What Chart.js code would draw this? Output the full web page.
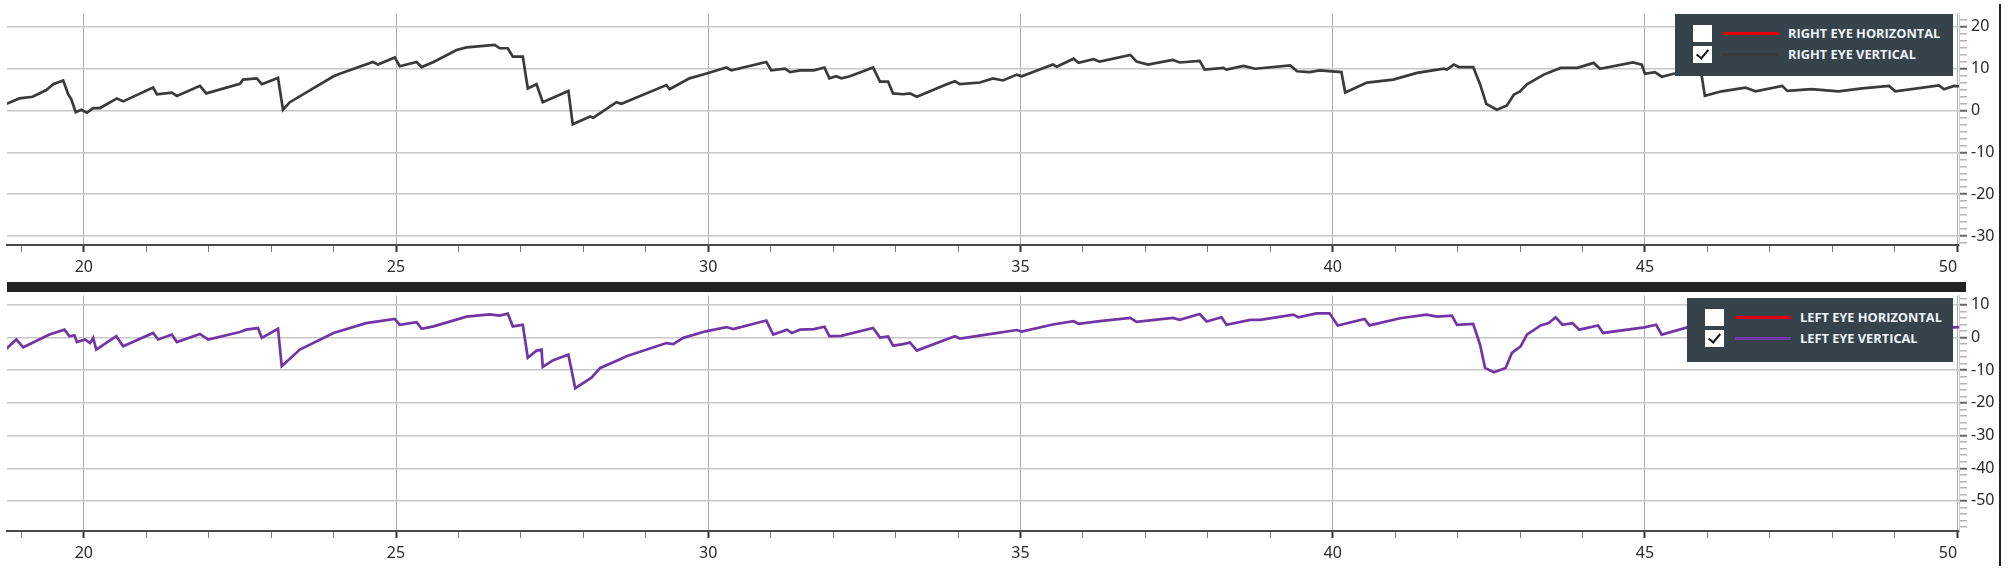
<!DOCTYPE html>
<html>
<head>
<meta charset="utf-8">
<script src="https://cdn.jsdelivr.net/npm/chart.js@4.4.1/dist/chart.umd.min.js"></script>
<style>
  html, body { margin: 0; padding: 0; background: #fff; }
  body { width: 2008px; height: 572px; position: relative; overflow: hidden; }
  canvas { position: absolute; left: 0; }
  #c1 { top: 0; }
  #c2 { top: 282px; }
  .sep { position: absolute; left: 7px; top: 282px; width: 1959px; height: 10px; background: #222; z-index: 5; }
  .vline { position: absolute; left: 1999px; top: 4px; width: 2px; height: 562px; background: #222; z-index: 5; }
  .legend { position: absolute; background: #36434b; z-index: 6; box-sizing: border-box; }
  .row { position: absolute; left: 0; height: 20px; width: 100%; }
  .cb { position: absolute; left: 18px; top: 2px; width: 19px; height: 17px; background: #fff; }
  .cb.on::after { content: ""; position: absolute; left: 6px; top: 1px; width: 5px; height: 10px;
    border-right: 2.5px solid #111; border-bottom: 2.5px solid #111; transform: rotate(40deg); }
  .ln { position: absolute; left: 48px; top: 9px; width: 56px; height: 3px; }
  .tx { position: absolute; left: 113px; top: 1px; font: bold 12.8px "Open Sans", sans-serif; color: #eef4fa; white-space: nowrap; line-height: 18px; }
</style>
</head>
<body>
<canvas id="c1" width="2008" height="282"></canvas>
<canvas id="c2" width="2008" height="290"></canvas>
<div class="sep"></div>
<div class="vline"></div>
<div id="lg1" class="legend" style="left:1675px; top:14px; width:278px; height:62px;"></div>
<div id="lg2" class="legend" style="left:1687px; top:298px; width:266px; height:64px;"></div>
<script>
// ---------- data ----------
const xMajorTicks = [20, 25, 30, 35, 40, 45, 50];
const topYTicks = [20, 10, 0, -10, -20, -30];
const botYTicks = [10, 0, -10, -20, -30, -40, -50];

const topSeriesNames = ['RIGHT EYE HORIZONTAL', 'RIGHT EYE VERTICAL'];
const topSeriesColors = ['#e00000', '#3a3a3a'];
const topSeriesVisible = [false, true];
const botSeriesNames = ['LEFT EYE HORIZONTAL', 'LEFT EYE VERTICAL'];
const botSeriesColors = ['#e00000', '#7334a6'];
const botSeriesVisible = [false, true];

// right eye vertical (time in s, deg)
const topX = [18.76,18.97,19.18,19.40,19.51,19.67,19.75,19.80,19.87,19.96,20.05,20.15,20.26,20.53,20.63,21.11,21.17,21.41,21.49,21.86,21.96,
  22.50,22.55,22.77,22.85,23.11,23.19,23.30,24.00,24.10,24.63,24.71,24.98,25.06,25.33,25.41,25.60,25.97,26.13,26.58,26.66,26.79,26.87,
  27.03,27.11,27.25,27.35,27.76,27.83,28.11,28.16,28.53,28.61,29.33,29.38,29.70,29.96,30.29,30.37,30.93,31.01,31.23,31.31,31.47,31.69,
  31.86,31.94,32.05,32.13,32.27,32.64,32.75,32.88,32.96,33.12,33.23,33.34,33.82,33.95,34.03,34.35,34.56,34.72,34.94,35.02,35.52,35.58,
  35.85,35.93,36.17,36.27,36.76,36.86,37.04,37.44,37.55,37.87,37.95,38.25,38.30,38.57,38.76,39.32,39.43,39.63,39.79,40.14,40.20,40.55,
  40.97,41.35,41.78,41.83,41.94,42.02,42.25,42.36,42.46,42.63,42.79,42.90,43.00,43.11,43.38,43.65,43.92,44.18,44.28,44.81,44.95,45.00,
  45.16,45.27,45.46,45.70,45.90,45.96,46.23,46.61,46.77,47.20,47.28,47.67,48.10,48.48,48.91,49.01,49.71,49.79,49.95,50.04];
const topY = [1.6,2.9,3.3,4.9,6.3,7.2,3.9,2.7,-0.4,0.2,-0.5,0.6,0.6,2.9,2.2,5.5,3.9,4.3,3.5,5.9,4.1,
  6.4,7.4,7.7,6.3,7.8,0.2,2.0,8.2,8.8,11.6,11.0,12.7,10.6,11.6,10.4,11.6,14.5,15.1,15.7,14.9,14.9,12.9,
  12.9,5.3,6.3,2.0,4.7,-3.3,-1.4,-1.7,2.0,1.6,6.1,5.1,7.7,8.8,10.3,9.6,11.6,9.6,10.0,9.2,9.6,9.6,
  10.3,7.7,8.2,7.7,8.2,10.3,6.9,6.9,4.1,3.9,4.1,3.3,6.3,7.0,6.3,6.7,7.7,7.2,8.6,8.2,11.0,10.5,
  12.4,11.4,12.3,11.7,13.3,11.7,11.0,12.1,11.5,11.9,9.8,10.2,9.8,10.7,10.0,10.8,9.4,9.2,9.6,9.2,4.3,6.7,
  7.4,9.0,10.0,9.8,11.0,10.4,10.4,6.3,1.6,0.2,1.2,3.8,4.6,6.3,8.6,10.2,10.2,11.4,10.0,11.5,11.0,8.8,
  9.2,8.1,8.8,9.4,9.2,3.5,4.6,5.5,4.6,5.9,4.7,5.1,4.6,5.3,5.9,4.6,6.0,5.1,5.9,5.8];

// left eye vertical (time in s, deg)
const botX = [18.76,18.92,19.03,19.45,19.69,19.77,19.85,19.89,20.02,20.10,20.15,20.20,20.52,20.63,21.11,21.19,21.41,21.49,21.86,21.99,
  22.50,22.60,22.79,22.85,23.11,23.17,23.46,24.00,24.52,24.98,25.06,25.33,25.41,25.60,26.13,26.50,26.66,26.79,26.87,27.03,27.11,27.25,
  27.33,27.35,27.51,27.76,27.87,28.13,28.27,28.58,28.69,29.33,29.44,29.60,29.96,30.29,30.40,30.93,31.04,31.26,31.34,31.47,31.69,31.86,
  31.94,32.13,32.64,32.75,32.88,32.96,33.12,33.23,33.34,33.82,33.95,34.03,34.56,34.94,35.02,35.52,35.85,35.93,36.27,36.76,36.86,37.44,
  37.55,37.87,37.98,38.22,38.30,38.68,38.84,39.37,39.45,39.74,39.95,40.08,40.51,40.59,41.08,41.50,41.67,41.91,41.99,42.25,42.36,42.44,
  42.58,42.77,42.87,43.01,43.11,43.33,43.46,43.57,43.68,43.84,43.95,44.25,44.33,44.99,45.18,45.27,45.68,46.10,46.70,47.40,48.10,48.80,
  49.50,49.95,50.04];
const botY = [-3.4,-0.6,-3.0,0.9,2.4,0.4,0.7,-1.4,-0.6,-1.7,-0.1,-3.7,0.4,-2.7,1.4,-0.6,0.9,-1.4,1.1,-0.6,
  1.7,2.4,2.9,-0.1,2.7,-8.8,-3.7,1.4,4.4,5.7,3.9,4.7,2.7,3.4,6.4,7.1,6.7,7.3,3.4,3.9,-6.2,-4.0,
  -3.7,-9.0,-7.0,-5.2,-15.5,-12.3,-9.3,-6.7,-5.7,-1.7,-2.0,-0.1,1.9,3.2,2.6,5.2,0.9,2.4,1.4,2.4,2.6,3.3,
  0.4,0.5,2.9,0.0,0.3,-2.5,-2.0,-1.5,-4.0,-0.5,0.4,-0.3,1.2,2.3,1.8,4.0,5.0,4.2,5.0,6.0,4.8,6.0,
  5.4,7.2,4.9,6.2,3.9,5.4,5.4,7.0,6.2,7.4,7.4,3.7,5.7,3.7,5.9,7.0,6.4,6.7,3.9,4.2,-2.2,-9.3,
  -10.6,-9.3,-4.7,-2.7,0.9,3.7,4.4,6.2,3.9,4.4,2.4,3.7,1.4,3.1,3.9,0.9,3.1,4.0,4.5,4.2,4.8,4.4,
  5.0,3.1,3.2];

// ---------- helpers ----------
const near = (v, list) => list.find(t => Math.abs(v - t) < 1e-6);
const pts = (xs, ys) => xs.map((x, i) => ({ x: x, y: ys[i] }));
const FONT = { family: '"Noto Sans", "DejaVu Sans", sans-serif', size: 16 };

function buildChart(canvas, cfg) {
  return new Chart(canvas, {
    type: 'line',
    data: {
      datasets: cfg.names.map((n, i) => ({
        label: n,
        data: i === 1 ? pts(cfg.xs, cfg.ys) : [],
        hidden: !cfg.visible[i],
        borderColor: cfg.colors[i],
        borderWidth: 2.7,
        pointRadius: 0,
        tension: 0,
        fill: false
      }))
    },
    options: {
      responsive: false,
      animation: false,
      events: [],
      layout: { padding: { left: 7, top: cfg.padTop, right: 0, bottom: 0 } },
      plugins: { legend: { display: false }, tooltip: { enabled: false } },
      scales: {
        x: {
          type: 'linear',
          min: 18.77, max: 50.03,
          afterFit: s => { s.height = cfg.xAxisH; },
          border: { color: '#4a4a4a', width: 2 },
          grid: {
            color: c => (c.tick && near(c.tick.value, xMajorTicks) !== undefined) ? '#ababab' : 'rgba(0,0,0,0)',
            lineWidth: 1,
            tickColor: c => (c.tick && near(c.tick.value, xMajorTicks) !== undefined) ? '#333' : '#777',
            tickWidth: c => (c.tick && near(c.tick.value, xMajorTicks) !== undefined) ? 2 : 1,
            tickLength: 7
          },
          ticks: {
            stepSize: 1, autoSkip: false, maxRotation: 0, includeBounds: false, align: 'inner',
            padding: 6, color: '#2a2a2a', font: FONT,
            callback: v => { const t = near(v, xMajorTicks); return t !== undefined ? String(t) : ''; }
          }
        },
        y: {
          position: 'right',
          min: cfg.yMin, max: cfg.yMax,
          afterFit: s => { s.width = 49; },
          border: { color: '#cfcfcf', width: 1 },
          grid: {
            color: c => (c.tick && near(c.tick.value, cfg.yTicks) !== undefined) ? '#c8c8c8' : 'rgba(0,0,0,0)',
            lineWidth: 1.5,
            tickColor: c => (c.tick && near(c.tick.value, cfg.yTicks) !== undefined) ? '#666' : '#b4b4b4',
            tickWidth: c => (c.tick && near(c.tick.value, cfg.yTicks) !== undefined) ? 2 : 1.5,
            tickLength: 8
          },
          ticks: {
            stepSize: cfg.yStep, autoSkip: false, includeBounds: false,
            padding: 4, color: '#2a2a2a', font: FONT,
            callback: v => { const t = near(v, cfg.yTicks); return t !== undefined ? String(t) : ''; }
          }
        }
      }
    }
  });
}

buildChart(document.getElementById('c1'), {
  names: topSeriesNames, colors: topSeriesColors, visible: topSeriesVisible,
  xs: topX, ys: topY, padTop: 7, xAxisH: 37,
  yMin: -32.16, yMax: 23.19, yStep: 10 / 6, yTicks: topYTicks
});
buildChart(document.getElementById('c2'), {
  names: botSeriesNames, colors: botSeriesColors, visible: botSeriesVisible,
  xs: botX, ys: botY, padTop: 12, xAxisH: 41,
  yMin: -59.2, yMax: 12.83, yStep: 2, yTicks: botYTicks
});

function buildLegend(el, names, colors, visible) {
  names.forEach((n, i) => {
    const row = document.createElement('div');
    row.className = 'row';
    row.style.top = (9 + i * 21) + 'px';
    row.innerHTML = '<div class="cb' + (visible[i] ? ' on' : '') + '"></div>' +
      '<div class="ln" style="background:' + colors[i] + '"></div>' +
      '<div class="tx"></div>';
    row.querySelector('.tx').textContent = n;
    el.appendChild(row);
  });
}
buildLegend(document.getElementById('lg1'), topSeriesNames, topSeriesColors, topSeriesVisible);
buildLegend(document.getElementById('lg2'), botSeriesNames, botSeriesColors, botSeriesVisible);
</script>
</body>
</html>
